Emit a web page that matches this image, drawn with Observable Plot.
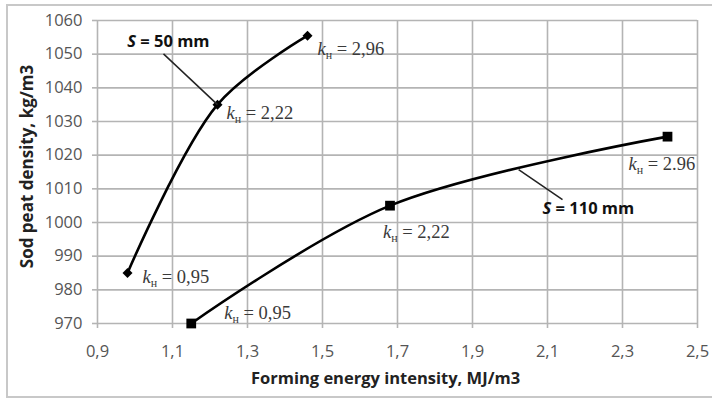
<!DOCTYPE html>
<html>
<head>
<meta charset="utf-8">
<script src="https://cdn.jsdelivr.net/npm/d3@7"></script>
<script src="https://cdn.jsdelivr.net/npm/@observablehq/plot@0.6"></script>
<style>
  html, body { margin: 0; padding: 0; background: #fff; }
  #chart { width: 712px; height: 399px; }
</style>
</head>
<body>
<div id="chart"></div>
<script>
// ---- data ----
const energy50 = [0.98, 1.22, 1.46];
const density50 = [985, 1035, 1055.5];
const kLabels50 = ["0,95", "2,22", "2,96"];

const energy110 = [1.15, 1.68, 2.42];
const density110 = [970, 1005, 1025.5];
const kLabels110 = ["0,95", "2,22", "2.96"];

const xTicks = [0.9, 1.1, 1.3, 1.5, 1.7, 1.9, 2.1, 2.3, 2.5];
const yTicks = [970, 980, 990, 1000, 1010, 1020, 1030, 1040, 1050, 1060];

const seriesNames = ["S = 50 mm", "S = 110 mm"];
// annotation text anchors (data space) and leader-line start points on the curves
const annoText = [{x: 1.089, y: 1053.6}, {x: 2.209, y: 1004.1}];
const annoLeaderFrom = [{x: 1.076, y: 1050.1}, {x: 2.023, y: 1015.7}];
const annoLeaderTo = [{x: 1.22, y: 1035}, {x: 2.14, y: 1006.8}];

const xTitle = "Forming energy intensity, MJ/m3";
const yTitle = "Sod peat density, kg/m3";

// ---- tables ----
const s50 = energy50.map((x, i) => ({x, y: density50[i], k: "kн = " + kLabels50[i]}));
const s110 = energy110.map((x, i) => ({x, y: density110[i], k: "kн = " + kLabels110[i]}));
const leaders = annoLeaderFrom.map((a, i) => ({x1: a.x, y1: a.y, x2: annoLeaderTo[i].x, y2: annoLeaderTo[i].y}));
const annos = annoText.map((a, i) => ({...a, name: seriesNames[i]}));

const fmt = d => d.toFixed(1).replace(".", ",");
const gridStyle = {stroke: "#b4b4b4", strokeOpacity: 1, strokeWidth: 1.6};
const kFont = {fontFamily: "Liberation Serif, Times New Roman, serif", fontSize: 18.5, fill: "#3a3a3a", textAnchor: "start"};

// label offsets (pixels) for each point label
const off50 = [[15, 4], [9, 8], [10, 13]];
const off110 = [[33, -10], [-7, 26], [-39, 27]];

const kMarks = [];
s50.forEach((d, i) => kMarks.push(Plot.text([d], {x: "x", y: "y", text: "k", dx: off50[i][0], dy: off50[i][1], ...kFont})));
s110.forEach((d, i) => kMarks.push(Plot.text([d], {x: "x", y: "y", text: "k", dx: off110[i][0], dy: off110[i][1], ...kFont})));

const chart = Plot.plot({
  width: 712,
  height: 399,
  marginLeft: 97,
  marginRight: 15,
  marginTop: 20,
  marginBottom: 76,
  style: {fontFamily: "Open Sans, Lato, sans-serif", background: "#fff"},
  x: {domain: [0.9, 2.5]},
  y: {domain: [970, 1060]},
  marks: [
    Plot.gridX(xTicks, gridStyle),
    Plot.gridY(yTicks, gridStyle),
    Plot.axisX(xTicks, {tickSize: 5, tickPadding: 17, tickFormat: fmt, fontSize: 16.5, fill: "#555", stroke: "#b4b4b4", strokeWidth: 1.6, label: null}),
    Plot.axisY(yTicks, {tickSize: 5, tickPadding: 10, tickFormat: d => String(d), fontSize: 16.5, fill: "#555", stroke: "#b4b4b4", strokeWidth: 1.6, label: null}),
    Plot.text([xTitle], {frameAnchor: "bottom", dx: -12, dy: 60, fontSize: 16.5, fontWeight: "bold", fill: "#222"}),
    Plot.text([yTitle], {frameAnchor: "left", textAnchor: "middle", dx: -70, dy: -5.5, rotate: -90, fontSize: 17, fontWeight: "bold", fill: "#222"}),
    Plot.line(s50, {x: "x", y: "y", curve: "catmull-rom", stroke: "#000", strokeWidth: 2.6}),
    Plot.line(s110, {x: "x", y: "y", curve: "catmull-rom", stroke: "#000", strokeWidth: 2.6}),
    Plot.dot(s50, {x: "x", y: "y", symbol: "diamond2", r: 4.5, fill: "#000", stroke: "none"}),
    Plot.dot(s110, {x: "x", y: "y", symbol: "square", r: 5.5, fill: "#000", stroke: "none"}),
    Plot.link(leaders, {x1: "x1", y1: "y1", x2: "x2", y2: "y2", stroke: "#222", strokeWidth: 1.5}),
    Plot.text(annos, {x: "x", y: "y", text: "name", fontSize: 16.5, fontWeight: "bold", fill: "#111"}),
    ...kMarks
  ]
});

document.getElementById("chart").appendChild(chart);

// style k-labels: italic k with subscript н
d3.select(chart).selectAll("text").each(function() {
  const t = this.textContent;
  if (t.startsWith("kн")) {
    const rest = t.slice(2);
    const el = d3.select(this);
    el.text(null);
    el.append("tspan").attr("font-style", "italic").text("k");
    el.append("tspan").attr("font-size", "12").attr("dy", "4").text("н");
    el.append("tspan").attr("dy", "-4").text(rest);
  }
  if (t.startsWith("S = ")) {
    const rest = t.slice(1);
    const el = d3.select(this);
    el.text(null);
    el.append("tspan").attr("font-style", "italic").text("S");
    el.append("tspan").text(rest);
  }
});

// outer border
d3.select(chart).append("rect")
  .attr("x", 7).attr("y", 5).attr("width", 708).attr("height", 392)
  .attr("fill", "none").attr("stroke", "#c8c8c8").attr("stroke-width", 2);
</script>
</body>
</html>
